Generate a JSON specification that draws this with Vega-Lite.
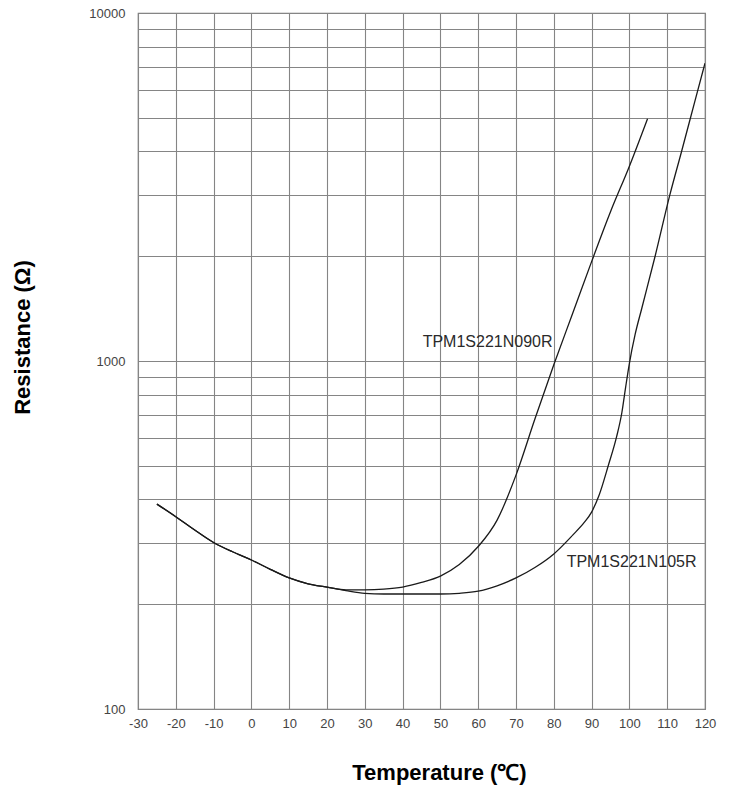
{
  "$schema": "https://vega.github.io/schema/vega-lite/v6.json",
  "width": 567,
  "height": 696,
  "autosize": {"type": "none"},
  "padding": {"left": 138, "top": 13, "right": 26, "bottom": 78},
  "background": "white",
  "config": {
    "font": "Liberation Sans",
    "view": {"stroke": "#777", "strokeWidth": 1.2}
  },
  "encoding": {
    "x": {
      "field": "t",
      "type": "quantitative",
      "scale": {"domain": [-30, 120], "nice": false, "zero": false},
      "axis": {
        "values": [-30, -20, -10, 0, 10, 20, 30, 40, 50, 60, 70, 80, 90, 100, 110, 120],
        "labelExpr": "'' + datum.value",
        "grid": true,
        "gridColor": "#858585",
        "gridWidth": 1.1,
        "ticks": false,
        "domain": false,
        "labelFlush": false,
        "labelOverlap": false,
        "labelFontSize": 13,
        "labelColor": "#444",
        "labelPadding": 8,
        "title": "Temperature (℃)",
        "titleFontSize": 22,
        "titleFontWeight": "bold",
        "titleColor": "#000",
        "titleX": 301,
        "titleY": 63,
        "titleBaseline": "middle"
      }
    },
    "y": {
      "field": "r",
      "type": "quantitative",
      "scale": {"type": "log", "domain": [100, 10000], "nice": false},
      "axis": {
        "values": [100, 200, 300, 400, 500, 600, 700, 800, 900, 1000, 2000, 3000, 4000, 5000, 6000, 7000, 8000, 9000, 10000],
        "labelExpr": "datum.value == 100 || datum.value == 1000 || datum.value == 10000 ? '' + datum.value : ''",
        "grid": true,
        "gridColor": "#858585",
        "gridWidth": 1.1,
        "ticks": false,
        "domain": false,
        "labelFlush": false,
        "labelOverlap": false,
        "labelFontSize": 13,
        "labelColor": "#444",
        "labelPadding": 13,
        "title": "Resistance (Ω)",
        "titleFontSize": 22,
        "titleFontWeight": "bold",
        "titleColor": "#000",
        "titleAngle": -90,
        "titleX": -116,
        "titleY": 324,
        "titleBaseline": "middle",
        "titleAlign": "center"
      }
    }
  },
  "layer": [
    {
      "data": {
        "values": [
          {"series": "TPM1S221N090R", "t": -25, "r": 388},
          {"series": "TPM1S221N090R", "t": -20, "r": 357},
          {"series": "TPM1S221N090R", "t": -15, "r": 327},
          {"series": "TPM1S221N090R", "t": -10, "r": 301},
          {"series": "TPM1S221N090R", "t": -5, "r": 283},
          {"series": "TPM1S221N090R", "t": 0, "r": 268},
          {"series": "TPM1S221N090R", "t": 5, "r": 252},
          {"series": "TPM1S221N090R", "t": 10, "r": 238},
          {"series": "TPM1S221N090R", "t": 15, "r": 229},
          {"series": "TPM1S221N090R", "t": 20, "r": 224},
          {"series": "TPM1S221N090R", "t": 25, "r": 220},
          {"series": "TPM1S221N090R", "t": 30, "r": 220},
          {"series": "TPM1S221N090R", "t": 35, "r": 221},
          {"series": "TPM1S221N090R", "t": 40, "r": 224},
          {"series": "TPM1S221N090R", "t": 45, "r": 231},
          {"series": "TPM1S221N090R", "t": 50, "r": 241},
          {"series": "TPM1S221N090R", "t": 55, "r": 260},
          {"series": "TPM1S221N090R", "t": 60, "r": 293},
          {"series": "TPM1S221N090R", "t": 65, "r": 349},
          {"series": "TPM1S221N090R", "t": 70, "r": 470},
          {"series": "TPM1S221N090R", "t": 75, "r": 681},
          {"series": "TPM1S221N090R", "t": 80, "r": 975},
          {"series": "TPM1S221N090R", "t": 85, "r": 1371},
          {"series": "TPM1S221N090R", "t": 90, "r": 1930},
          {"series": "TPM1S221N090R", "t": 95, "r": 2685},
          {"series": "TPM1S221N090R", "t": 100, "r": 3630},
          {"series": "TPM1S221N090R", "t": 104.8, "r": 4970},
          {"series": "TPM1S221N105R", "t": -25, "r": 388},
          {"series": "TPM1S221N105R", "t": -20, "r": 357},
          {"series": "TPM1S221N105R", "t": -15, "r": 327},
          {"series": "TPM1S221N105R", "t": -10, "r": 301},
          {"series": "TPM1S221N105R", "t": -5, "r": 283},
          {"series": "TPM1S221N105R", "t": 0, "r": 268},
          {"series": "TPM1S221N105R", "t": 5, "r": 252},
          {"series": "TPM1S221N105R", "t": 10, "r": 238},
          {"series": "TPM1S221N105R", "t": 15, "r": 229},
          {"series": "TPM1S221N105R", "t": 20, "r": 224},
          {"series": "TPM1S221N105R", "t": 25, "r": 219},
          {"series": "TPM1S221N105R", "t": 30, "r": 215},
          {"series": "TPM1S221N105R", "t": 35, "r": 214},
          {"series": "TPM1S221N105R", "t": 40, "r": 214},
          {"series": "TPM1S221N105R", "t": 45, "r": 214},
          {"series": "TPM1S221N105R", "t": 50, "r": 214},
          {"series": "TPM1S221N105R", "t": 55, "r": 215},
          {"series": "TPM1S221N105R", "t": 60, "r": 218},
          {"series": "TPM1S221N105R", "t": 65, "r": 226},
          {"series": "TPM1S221N105R", "t": 70, "r": 238},
          {"series": "TPM1S221N105R", "t": 75, "r": 255},
          {"series": "TPM1S221N105R", "t": 80, "r": 279},
          {"series": "TPM1S221N105R", "t": 85, "r": 316},
          {"series": "TPM1S221N105R", "t": 88, "r": 343},
          {"series": "TPM1S221N105R", "t": 90, "r": 368},
          {"series": "TPM1S221N105R", "t": 92, "r": 412},
          {"series": "TPM1S221N105R", "t": 94.4, "r": 500},
          {"series": "TPM1S221N105R", "t": 96.6, "r": 605},
          {"series": "TPM1S221N105R", "t": 98, "r": 710},
          {"series": "TPM1S221N105R", "t": 99, "r": 840},
          {"series": "TPM1S221N105R", "t": 100, "r": 985},
          {"series": "TPM1S221N105R", "t": 101.5, "r": 1190},
          {"series": "TPM1S221N105R", "t": 103.3, "r": 1420},
          {"series": "TPM1S221N105R", "t": 106.8, "r": 2000},
          {"series": "TPM1S221N105R", "t": 110.7, "r": 3000},
          {"series": "TPM1S221N105R", "t": 113.8, "r": 4000},
          {"series": "TPM1S221N105R", "t": 117.4, "r": 5620},
          {"series": "TPM1S221N105R", "t": 120, "r": 7170}
        ]
      },
      "mark": {"type": "line", "interpolate": "monotone", "strokeWidth": 1.3, "clip": true},
      "encoding": {
        "color": {
          "field": "series",
          "type": "nominal",
          "scale": {"range": ["#1a1a1a", "#1a1a1a"]},
          "legend": null
        }
      }
    },
    {
      "data": {
        "values": [
          {"t": 45.3, "r": 1132, "label": "TPM1S221N090R"},
          {"t": 83.4, "r": 265, "label": "TPM1S221N105R"}
        ]
      },
      "mark": {"type": "text", "align": "left", "baseline": "middle", "fontSize": 16, "color": "#2a2a2a"},
      "encoding": {
        "text": {"field": "label"}
      }
    }
  ]
}
